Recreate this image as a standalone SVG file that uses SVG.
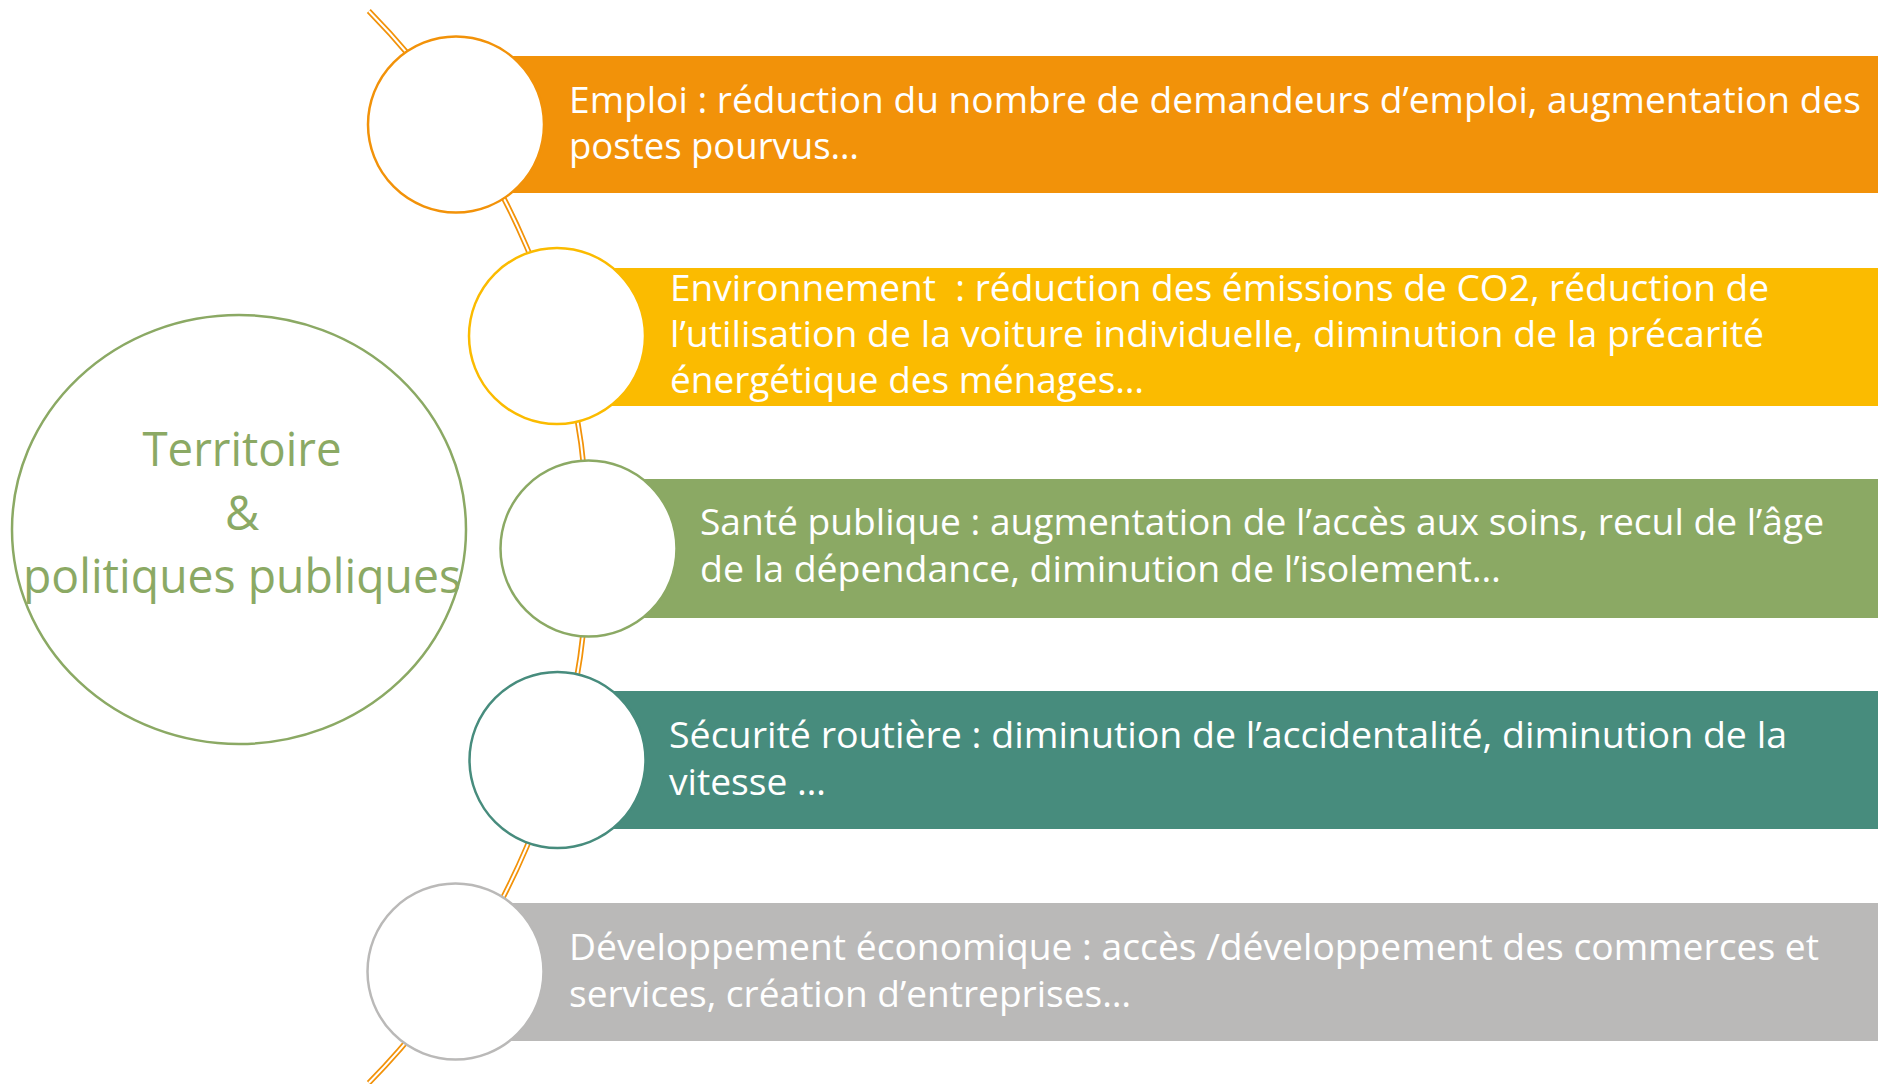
<svg xmlns="http://www.w3.org/2000/svg" width="1881" height="1084" viewBox="0 0 1881 1084">
<style>
.bar{stroke:none}
.dot{fill:#FFFFFF;stroke-width:2.5}
.lbl{font-family:"Open Sans","Liberation Sans",sans-serif;font-size:36.5px;fill:#FFFFFF;white-space:pre}
.hub{font-family:"Open Sans","Liberation Sans",sans-serif;font-size:47px;fill:#8BA964;text-anchor:middle}
</style>
<rect width="1881" height="1084" fill="#FFFFFF"/>
<g id="connectors">
<path d="M 368.8,11 A 765 765 0 0 1 368.8,1083" fill="none" stroke="#F29209" stroke-width="5.5"/>
<path d="M 368.8,11 A 765 765 0 0 1 368.8,1083" fill="none" stroke="#FFFFFF" stroke-width="2"/>
</g>
<g id="hub">
<ellipse cx="239" cy="529.5" rx="227" ry="214.5" fill="none" stroke="#8BA964" stroke-width="2.5"/>
<text class="hub" x="242" y="466" textLength="199" lengthAdjust="spacingAndGlyphs">Territoire</text>
<text class="hub" x="242" y="530">&amp;</text>
<text class="hub" x="242" y="593" textLength="438" lengthAdjust="spacingAndGlyphs">politiques publiques</text>
</g>
<g id="emploi">
<rect class="bar" x="456" y="56" width="1422" height="137" fill="#F29209"/>
<circle class="dot" cx="456" cy="124.5" r="88" stroke="#F29209"/>
<text class="lbl" x="569" y="112.5" textLength="1292" lengthAdjust="spacingAndGlyphs">Emploi : réduction du nombre de demandeurs d’emploi, augmentation des</text>
<text class="lbl" x="569" y="159" textLength="290" lengthAdjust="spacingAndGlyphs">postes pourvus…</text>
</g>
<g id="environnement">
<rect class="bar" x="557" y="268" width="1321" height="138" fill="#FBBB00"/>
<circle class="dot" cx="557" cy="336" r="88" stroke="#FBBB00"/>
<text class="lbl" x="670" y="301" textLength="1099" lengthAdjust="spacingAndGlyphs">Environnement  : réduction des émissions de CO2, réduction de</text>
<text class="lbl" x="670" y="347" textLength="1094" lengthAdjust="spacingAndGlyphs">l’utilisation de la voiture individuelle, diminution de la précarité</text>
<text class="lbl" x="670" y="393" textLength="474" lengthAdjust="spacingAndGlyphs">énergétique des ménages…</text>
</g>
<g id="sante">
<rect class="bar" x="588" y="479" width="1290" height="139" fill="#8BA964"/>
<circle class="dot" cx="588.5" cy="548.5" r="88" stroke="#8BA964"/>
<text class="lbl" x="700" y="535" textLength="1124" lengthAdjust="spacingAndGlyphs">Santé publique : augmentation de l’accès aux soins, recul de l’âge</text>
<text class="lbl" x="700" y="582" textLength="801" lengthAdjust="spacingAndGlyphs">de la dépendance, diminution de l’isolement…</text>
</g>
<g id="securite">
<rect class="bar" x="557" y="691" width="1321" height="138" fill="#478C7D"/>
<circle class="dot" cx="557.5" cy="760" r="88" stroke="#478C7D"/>
<text class="lbl" x="669" y="748" textLength="1118" lengthAdjust="spacingAndGlyphs">Sécurité routière : diminution de l’accidentalité, diminution de la</text>
<text class="lbl" x="669" y="795" textLength="157" lengthAdjust="spacingAndGlyphs">vitesse …</text>
</g>
<g id="developpement">
<rect class="bar" x="456" y="903" width="1422" height="138" fill="#BAB9B8"/>
<circle class="dot" cx="455.5" cy="971.5" r="88" stroke="#BAB9B8"/>
<text class="lbl" x="569" y="960" textLength="1250" lengthAdjust="spacingAndGlyphs">Développement économique : accès /développement des commerces et</text>
<text class="lbl" x="569" y="1007" textLength="562" lengthAdjust="spacingAndGlyphs">services, création d’entreprises…</text>
</g>
</svg>
